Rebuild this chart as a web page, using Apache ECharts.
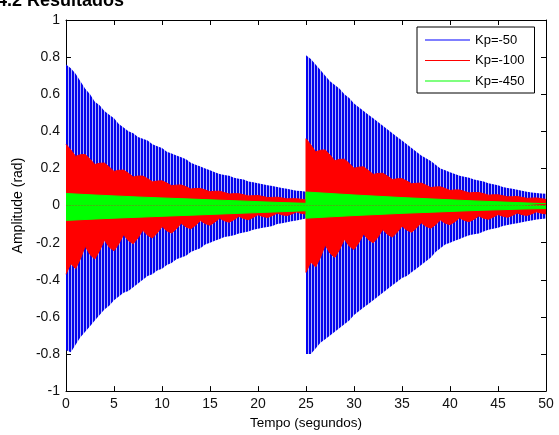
<!DOCTYPE html>
<html>
<head>
<meta charset="utf-8">
<script src="https://cdn.jsdelivr.net/npm/echarts@6/dist/echarts.min.js"></script>
<style>
  html, body { margin: 0; padding: 0; background: #fff; }
  #chart { width: 559px; height: 435px; }
</style>
</head>
<body>
<div id="chart"></div>
<script>
// tick values
var xTicks = [0, 5, 10, 15, 20, 25, 30, 35, 40, 45, 50];
var yTicks = [-1, -0.8, -0.6, -0.4, -0.2, 0, 0.2, 0.4, 0.6, 0.8, 1];

// Kp=-50 : outer edges of the blue oscillation, every 0.5 s, one list per 25 s run
var blueStep = 0.5;
var blueTop1 = [
  0.76, 0.74, 0.71, 0.67, 0.63, 0.60, 0.56, 0.54, 0.51, 0.49,
  0.47, 0.44, 0.42, 0.40, 0.39, 0.37, 0.36, 0.35, 0.33, 0.32,
  0.31, 0.29, 0.28, 0.27, 0.26, 0.25, 0.23, 0.22, 0.21, 0.20,
  0.19, 0.18, 0.17, 0.165, 0.16, 0.15, 0.145, 0.14, 0.13, 0.125,
  0.12, 0.115, 0.11, 0.105, 0.10, 0.095, 0.09, 0.085, 0.08, 0.078,
  0.075
];
var blueTop2 = [
  0.81, 0.79, 0.76, 0.73, 0.70, 0.67, 0.65, 0.63, 0.60, 0.58,
  0.55, 0.53, 0.51, 0.49, 0.47, 0.45, 0.43, 0.41, 0.39, 0.37,
  0.35, 0.33, 0.31, 0.29, 0.27, 0.255, 0.24, 0.22, 0.20, 0.19,
  0.18, 0.17, 0.16, 0.155, 0.15, 0.14, 0.135, 0.13, 0.12, 0.115,
  0.11, 0.10, 0.095, 0.09, 0.085, 0.08, 0.075, 0.07, 0.068, 0.065,
  0.063
];
var blueBot1 = [
  -0.78, -0.79, -0.75, -0.71, -0.68, -0.65, -0.62, -0.59, -0.56, -0.54,
  -0.51, -0.49, -0.47, -0.46, -0.44, -0.42, -0.40, -0.38, -0.37, -0.35,
  -0.34, -0.32, -0.31, -0.29, -0.28, -0.27, -0.25, -0.24, -0.23, -0.21,
  -0.20, -0.19, -0.18, -0.17, -0.165, -0.16, -0.15, -0.145, -0.14, -0.13,
  -0.125, -0.12, -0.115, -0.11, -0.10, -0.095, -0.09, -0.085, -0.08, -0.075,
  -0.07
];
var blueBot2 = [
  -0.80, -0.80, -0.77, -0.74, -0.72, -0.70, -0.68, -0.66, -0.64, -0.62,
  -0.59, -0.57, -0.55, -0.53, -0.51, -0.49, -0.47, -0.45, -0.43, -0.41,
  -0.39, -0.38, -0.36, -0.34, -0.32, -0.30, -0.28, -0.25, -0.23, -0.21,
  -0.20, -0.19, -0.18, -0.17, -0.16, -0.155, -0.15, -0.14, -0.13, -0.125,
  -0.12, -0.11, -0.105, -0.10, -0.095, -0.09, -0.085, -0.08, -0.075, -0.072,
  -0.07
];

// Kp=-100 : outer edge of the red band, every 0.5 s, one list per 25 s run
var redStep = 0.5;
var redTop1 = [
  0.33, 0.30, 0.265, 0.274, 0.275, 0.25, 0.221, 0.228, 0.229, 0.208,
  0.184, 0.19, 0.191, 0.174, 0.154, 0.159, 0.159, 0.145, 0.128, 0.132,
  0.133, 0.121, 0.107, 0.110, 0.111, 0.101, 0.089, 0.092, 0.092, 0.084,
  0.074, 0.077, 0.077, 0.070, 0.062, 0.064, 0.064, 0.058, 0.052, 0.053,
  0.054, 0.049, 0.043, 0.044, 0.045, 0.041, 0.036, 0.037, 0.037, 0.034,
  0.030
];
var redBot1 = [
  -0.37, -0.312, -0.340, -0.287, -0.219, -0.264, -0.288, -0.243, -0.186, -0.224,
  -0.244, -0.206, -0.157, -0.189, -0.206, -0.174, -0.133, -0.160, -0.175, -0.148,
  -0.113, -0.136, -0.148, -0.125, -0.095, -0.115, -0.125, -0.106, -0.081, -0.097,
  -0.106, -0.089, -0.068, -0.082, -0.090, -0.076, -0.058, -0.070, -0.076, -0.064,
  -0.049, -0.059, -0.064, -0.054, -0.041, -0.050, -0.054, -0.046, -0.035, -0.042,
  -0.046
];
var redTop2 = [
  0.36, 0.327, 0.289, 0.298, 0.300, 0.272, 0.241, 0.249, 0.250, 0.227,
  0.201, 0.207, 0.209, 0.189, 0.168, 0.173, 0.174, 0.158, 0.140, 0.144,
  0.145, 0.132, 0.117, 0.120, 0.121, 0.110, 0.097, 0.100, 0.101, 0.092,
  0.081, 0.084, 0.084, 0.076, 0.068, 0.070, 0.070, 0.064, 0.056, 0.058,
  0.058, 0.053, 0.047, 0.048, 0.049, 0.044, 0.039, 0.040, 0.041, 0.037,
  0.033
];
var redBot2 = [
  -0.36, -0.304, -0.331, -0.280, -0.213, -0.257, -0.280, -0.237, -0.181, -0.218,
  -0.237, -0.200, -0.153, -0.184, -0.201, -0.170, -0.129, -0.156, -0.170, -0.144,
  -0.110, -0.132, -0.144, -0.121, -0.093, -0.112, -0.122, -0.103, -0.078, -0.095,
  -0.103, -0.087, -0.066, -0.080, -0.087, -0.074, -0.056, -0.068, -0.074, -0.062,
  -0.048, -0.057, -0.063, -0.053, -0.040, -0.049, -0.053, -0.045, -0.034, -0.041,
  -0.045
];

// Kp=-450 : green band edges every 2.5 s
var greenStep = 2.5;
var greenTop1 = [0.065, 0.058, 0.052, 0.046, 0.041, 0.036, 0.031, 0.026, 0.021, 0.016, 0.012];
var greenBot1 = [-0.080, -0.074, -0.068, -0.063, -0.058, -0.053, -0.048, -0.043, -0.038, -0.033, -0.028];
var greenTop2 = [0.073, 0.065, 0.057, 0.050, 0.043, 0.037, 0.031, 0.025, 0.020, 0.015, 0.010];
var greenBot2 = [-0.068, -0.061, -0.054, -0.048, -0.042, -0.037, -0.032, -0.027, -0.023, -0.019, -0.016];

var runStart2 = 25;

function pts(vals, t0, step) {
  return vals.map(function (v, i) { return [t0 + i * step, v]; });
}
function runs(a, b, step) {
  return pts(a, 0, step).concat(pts(b, runStart2, step));
}

// vertical stroke texture for the dense blue oscillation
var stripe = document.createElement("canvas");
stripe.width = 3;
stripe.height = 1;
var sctx = stripe.getContext("2d");
sctx.fillStyle = "#0000ff"; sctx.fillRect(0, 0, 1, 1);
sctx.fillStyle = "#0a0ad8"; sctx.fillRect(1, 0, 1, 1);
sctx.fillStyle = "#b0b0ff"; sctx.fillRect(2, 0, 1, 1);

var font = "'Liberation Sans', Arial, sans-serif";

function band(name, color, fill, data, z) {
  return {
    name: name,
    type: "line",
    data: data,
    symbol: "none",
    color: color,
    z: z,
    lineStyle: { color: color, width: fill === color ? 1 : 0 },
    areaStyle: { color: fill, opacity: 1, origin: "auto" },
    silent: true
  };
}

var option = {
  animation: false,
  backgroundColor: "#fff",
  textStyle: { fontFamily: font },
  graphic: [{
    type: "text",
    left: -3,
    top: -8,
    style: { text: "4.2 Resultados", font: "bold 18px " + font, fill: "#000" }
  }],
  legend: {
    data: ["Kp=-50", "Kp=-100", "Kp=-450"],
    orient: "vertical",
    left: 417,
    top: 27,
    padding: [3, 10, 2, 8],
    icon: "rect",
    itemWidth: 45,
    itemHeight: 1,
    itemGap: 0.5,
    borderColor: "#000",
    borderWidth: 1,
    borderRadius: 0,
    backgroundColor: "#fff",
    z: 10,
    textStyle: { fontFamily: font, fontSize: 13, color: "#000", lineHeight: 20 }
  },
  grid: { left: 66, right: 13, top: 20, bottom: 37 },
  xAxis: [{
    type: "value",
    min: 0, max: 50, interval: 5,
    name: "Tempo (segundos)",
    nameLocation: "middle",
    nameGap: 22,
    nameTextStyle: { fontSize: 13.5, color: "#000", fontFamily: font },
    axisLine: { onZero: false, lineStyle: { color: "#000", width: 1 } },
    axisTick: { inside: true, length: 5, lineStyle: { color: "#000" } },
    axisLabel: { fontSize: 14, color: "#111", margin: 6, fontFamily: font },
    splitLine: { show: false }
  }, {
    type: "value",
    position: "top",
    min: 0, max: 50, interval: 5,
    axisLine: { onZero: false, lineStyle: { color: "#000", width: 1 } },
    axisTick: { inside: true, length: 5, lineStyle: { color: "#000" } },
    axisLabel: { show: false },
    splitLine: { show: false }
  }],
  yAxis: [{
    type: "value",
    min: -1, max: 1, interval: 0.2,
    name: "Amplitude (rad)",
    nameLocation: "middle",
    nameGap: 30,
    nameTextStyle: { fontSize: 14, color: "#000", fontFamily: font },
    axisLine: { show: true, onZero: false, lineStyle: { color: "#000", width: 1 } },
    axisTick: { show: true, inside: true, length: 5, lineStyle: { color: "#000" } },
    axisLabel: { fontSize: 14, color: "#111", margin: 6, fontFamily: font },
    splitLine: { show: false }
  }, {
    type: "value",
    position: "right",
    min: -1, max: 1, interval: 0.2,
    axisLine: { show: true, onZero: false, lineStyle: { color: "#000", width: 1 } },
    axisTick: { show: true, inside: true, length: 5, lineStyle: { color: "#000" } },
    axisLabel: { show: false },
    splitLine: { show: false }
  }],
  series: [
    band("Kp=-50", "#0000ff", { image: stripe, repeat: "repeat" }, runs(blueTop1, blueTop2, blueStep), 2),
    band("Kp=-50", "#0000ff", { image: stripe, repeat: "repeat" }, runs(blueBot1, blueBot2, blueStep), 2),
    band("Kp=-100", "#ff0000", "#ff0000", runs(redTop1, redTop2, redStep), 3),
    band("Kp=-100", "#ff0000", "#ff0000", runs(redBot1, redBot2, redStep), 3),
    band("Kp=-450", "#00ff00", "#00ff00", runs(greenTop1, greenTop2, greenStep), 4),
    band("Kp=-450", "#00ff00", "#00ff00", runs(greenBot1, greenBot2, greenStep), 4)
  ]
};

var myChart = echarts.init(document.getElementById("chart"));
myChart.setOption(option);
window.addEventListener("resize", function () {
  myChart.resize();
});
</script>
</body>
</html>
